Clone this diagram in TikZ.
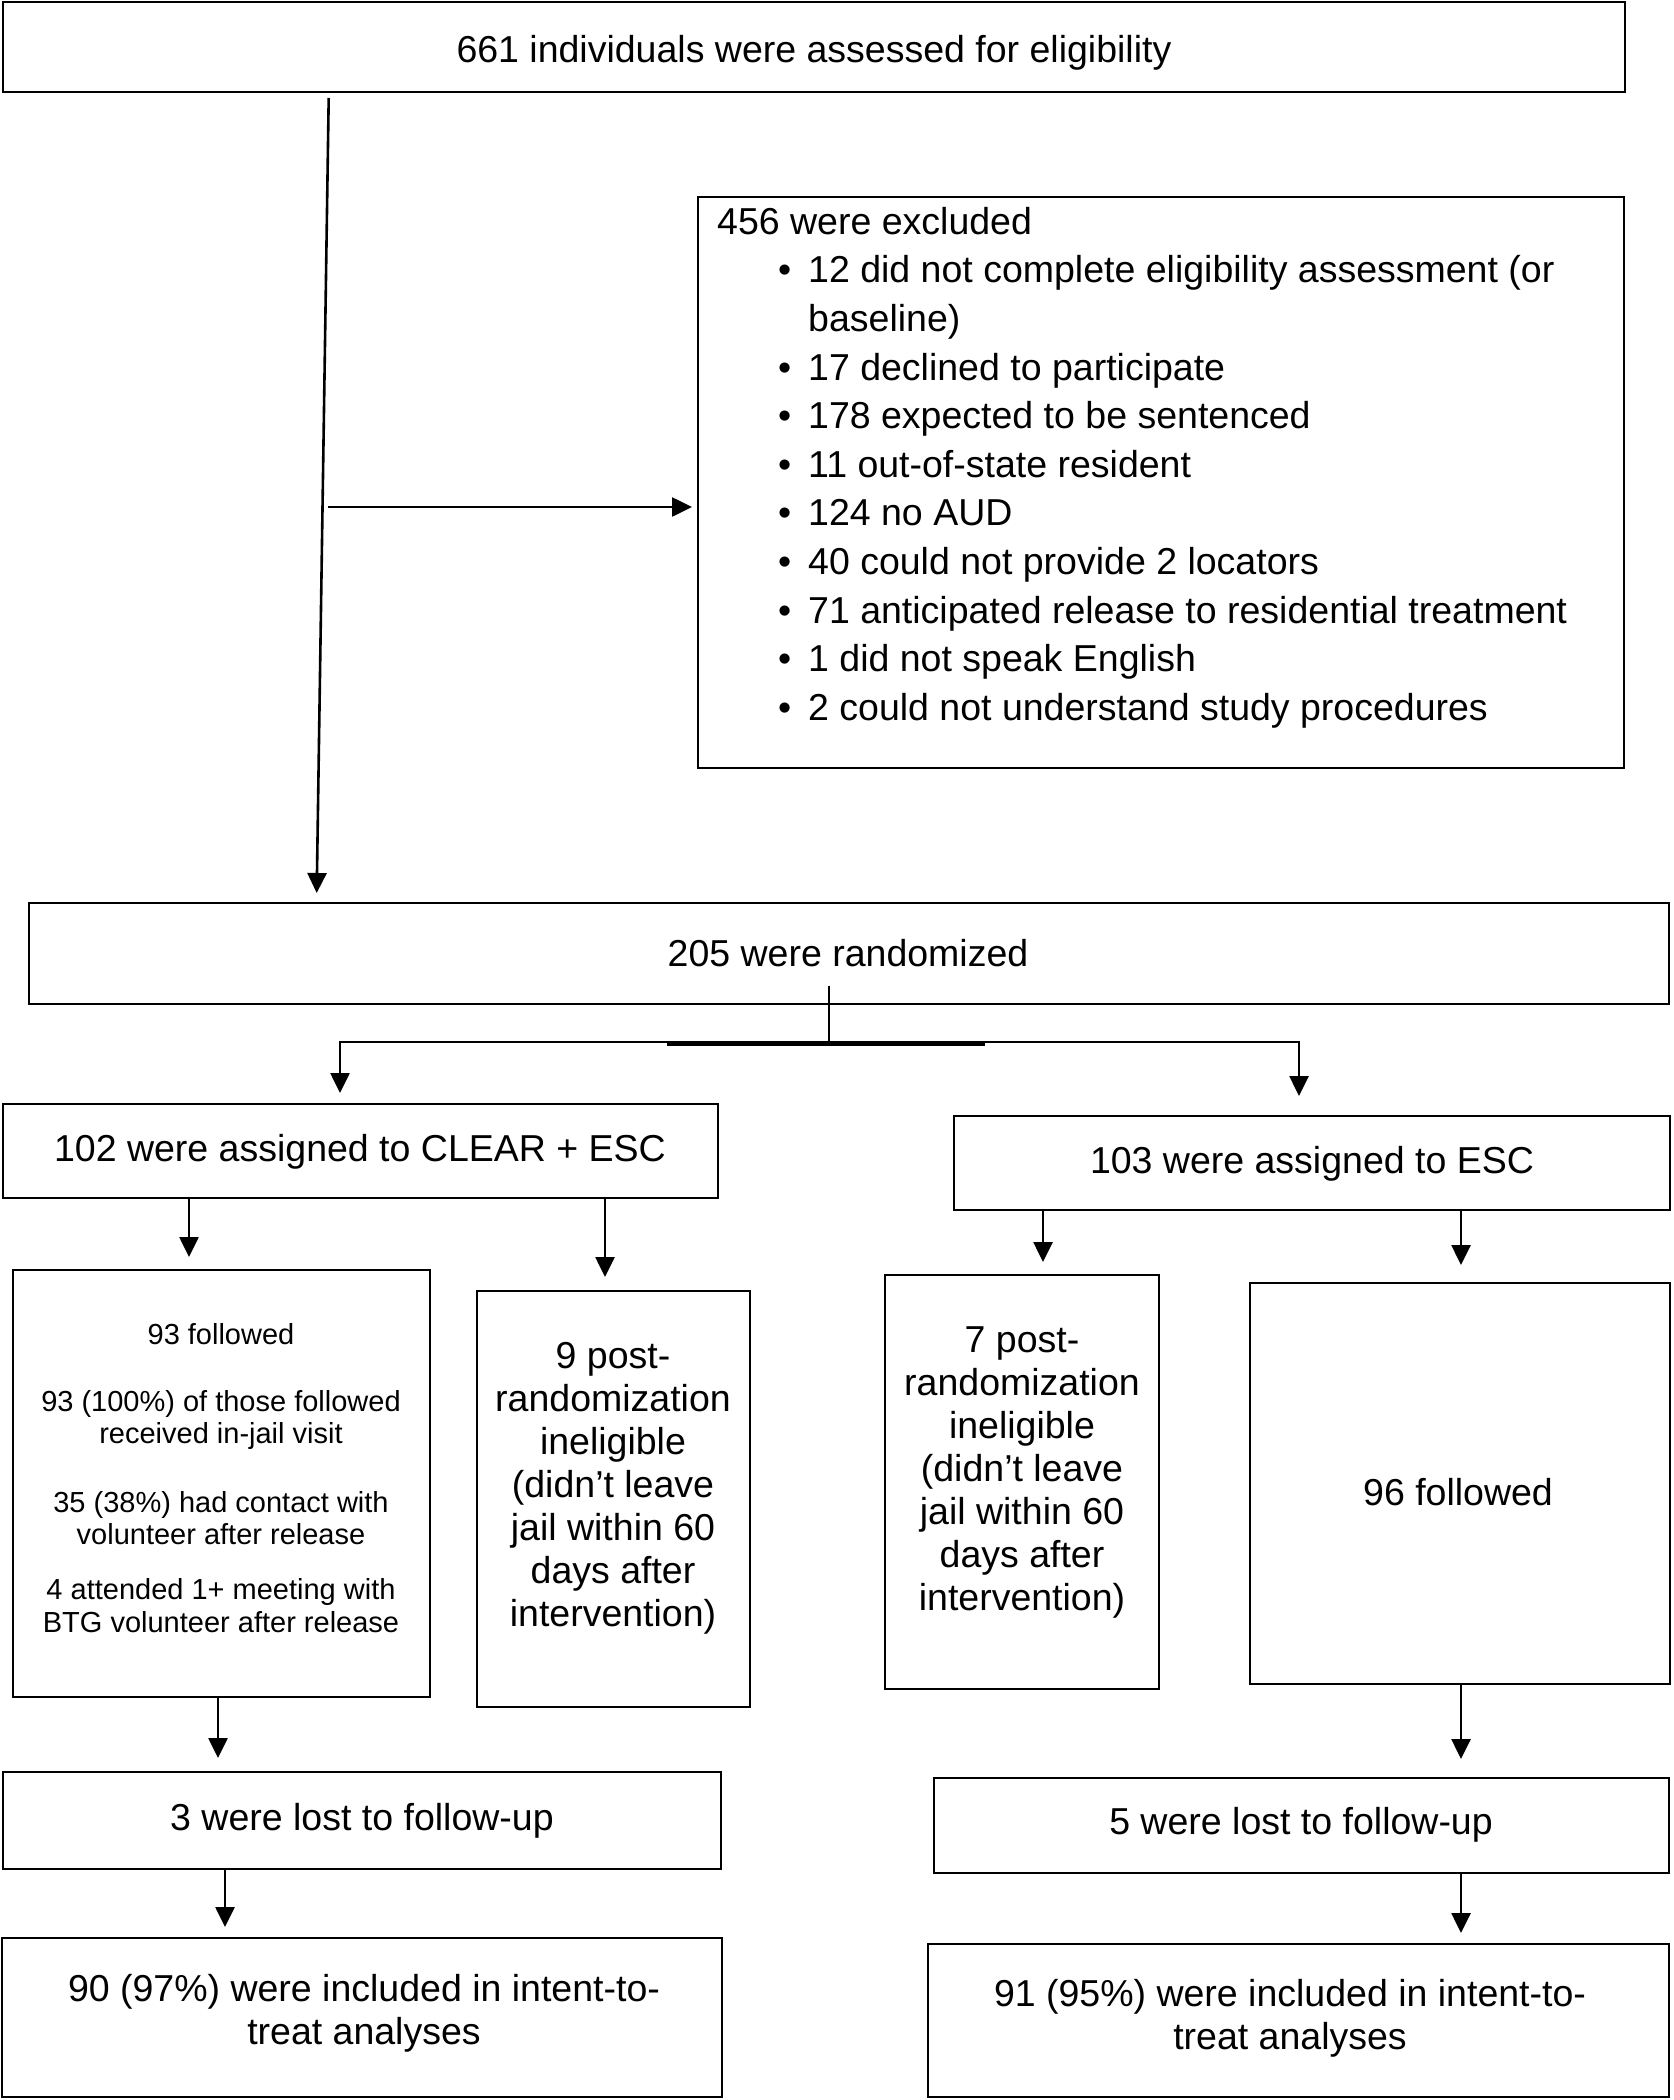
\documentclass[tikz,border=0pt]{standalone}
\usepackage{fontspec}
\setmainfont{Liberation Sans}
\usetikzlibrary{arrows.meta,fit}
\newcommand\fmain{\fontsize{37.5}{43}\selectfont}
\newcommand\fexcl{\fontsize{37.5}{48.6}\selectfont}
\newcommand\fsmall{\fontsize{29}{32.5}\selectfont}
\begin{document}
\begin{tikzpicture}[x=1pt,y=-1pt,
  box/.style={draw, line width=2.6pt, inner sep=0pt},
  thinbox/.style={box, line width=1.6pt},
  txt/.style={inner sep=0pt, align=center, font=\fmain},
  arr/.style={line width=2.6pt, -{Triangle[length=20pt,width=19pt]}},
  conn/.style={line width=2.6pt}]
\useasboundingbox (0,0) rectangle (1673,2100);

% boxes
\node[box, fit={(3,2) (1625,92)}] (assess) {};
\node[txt] (assesstxt) at (814,53) {661 individuals were assessed for eligibility};

\node[thinbox, fit={(698,197) (1624,768)}] (excl) {};
\node[anchor=north west, inner sep=0pt, align=left, font=\fexcl] (excltxt) at (717,207) {%
456 were excluded\\
\hspace*{61pt}\makebox[30pt][l]{•}12 did not complete eligibility assessment (or\\
\hspace*{91pt}baseline)\\
\hspace*{61pt}\makebox[30pt][l]{•}17 declined to participate\\
\hspace*{61pt}\makebox[30pt][l]{•}178 expected to be sentenced\\
\hspace*{61pt}\makebox[30pt][l]{•}11 out-of-state resident\\
\hspace*{61pt}\makebox[30pt][l]{•}124 no AUD\\
\hspace*{61pt}\makebox[30pt][l]{•}40 could not provide 2 locators\\
\hspace*{61pt}\makebox[30pt][l]{•}71 anticipated release to residential treatment\\
\hspace*{61pt}\makebox[30pt][l]{•}1 did not speak English\\
\hspace*{61pt}\makebox[30pt][l]{•}2 could not understand study procedures};

\node[box, fit={(29,903) (1669,1004)}] (rand) {};
\node[txt] (randtxt) at (848,953) {205 were randomized};

\node[box, fit={(3,1104) (718,1198)}] (armA) {};
\node[txt] (armAtxt) at (360,1152) {102 were assigned to CLEAR + ESC};
\node[box, fit={(954,1116) (1670,1210)}] (armB) {};
\node[txt] (armBtxt) at (1312,1164) {103 were assigned to ESC};

\node[box, fit={(13,1270) (430,1697)}] (folA) {};
\node[inner sep=0pt, align=center, font=\fsmall] (folAtxt) at (221,1478) {%
93 followed\\[34.5pt]
93 (100\%) of those followed\\
received in-jail visit\\[36pt]
35 (38\%) had contact with\\
volunteer after release\\[22.5pt]
4 attended 1+ meeting with\\
BTG volunteer after release};

\node[thinbox, fit={(477,1291) (750,1707)}] (inelA) {};
\node[txt] (inelAtxt) at (613,1488) {9 post-\\randomization\\ineligible\\(didn’t leave\\jail within 60\\days after\\intervention)};

\node[thinbox, fit={(885,1275) (1159,1689)}] (inelB) {};
\node[txt] (inelBtxt) at (1022,1472) {7 post-\\randomization\\ineligible\\(didn’t leave\\jail within 60\\days after\\intervention)};

\node[box, fit={(1250,1283) (1670,1684)}] (folB) {};
\node[txt] (folBtxt) at (1458,1492) {96 followed};

\node[box, fit={(3,1772) (721,1869)}] (lostA) {};
\node[txt] (lostAtxt) at (362,1821) {3 were lost to follow-up};
\node[box, fit={(934,1778) (1669,1873)}] (lostB) {};
\node[txt] (lostBtxt) at (1301,1825) {5 were lost to follow-up};

\node[box, fit={(2,1938) (722,2097)}] (itA) {};
\node[txt] (itAtxt) at (364,2013) {90 (97\%) were included in intent-to-\\treat analyses};
\node[box, fit={(928,1944) (1669,2097)}] (itB) {};
\node[txt] (itBtxt) at (1290,2018) {91 (95\%) were included in intent-to-\\treat analyses};

% connectors
\coordinate (s1) at (328.7,98);
\coordinate (e1) at (316.7,893);
\draw[arr] (s1) -- (e1);
\coordinate (s2) at (328,507);
\coordinate (e2) at (692,507);
\draw[arr] (s2) -- (e2);

\coordinate (r0) at (829,986);
\coordinate (rj) at (829,1042);
\coordinate (rl) at (340,1042);
\coordinate (rr) at (1299,1042);
\draw[conn] (r0) -- (rj);
\draw[conn, line cap=rect] (rl) -- (rr);
\draw[line width=5pt] (667,1043) -- (985,1043);
\draw[arr] (rl) -- (340,1093);
\draw[arr] (rr) -- (1299,1096);

\draw[arr] (189,1198) -- (189,1257);
\draw[arr] (605,1198) -- (605,1277);
\draw[arr] (1043,1210) -- (1043,1262);
\draw[arr] (1461,1210) -- (1461,1265);

\draw[arr] (folA.south -| 218,0) -- (218,1758);
\draw[arr] (folB.south -| 1461,0) -- (1461,1759);
\draw[arr] (lostA.south -| 225,0) -- (225,1927);
\draw[arr] (lostB.south -| 1461,0) -- (1461,1933);
\end{tikzpicture}
\end{document}
